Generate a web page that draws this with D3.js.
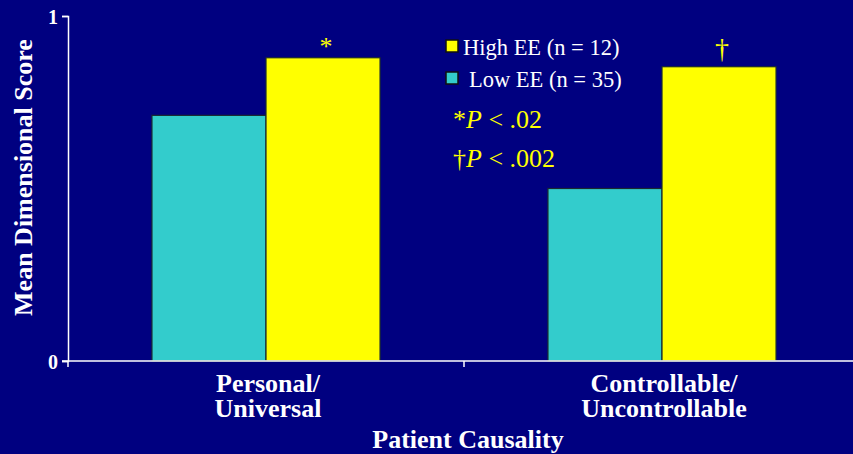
<!DOCTYPE html>
<html>
<head>
<meta charset="utf-8">
<script src="https://cdn.jsdelivr.net/npm/d3@7"></script>
<style>
  html, body { margin: 0; padding: 0; background: #000080; }
  svg { display: block; }
</style>
</head>
<body>
<svg id="chart" width="853" height="454" font-family="'Liberation Serif', 'DejaVu Serif', serif"></svg>
<script>
// Mean dimensional scores by patient causality dimension and EE group
const categories = ["Personal/\nUniversal", "Controllable/\nUncontrollable"];
const seriesNames = ["Low EE (n = 35)", "High EE (n = 12)"];
const lowEE = [0.712, 0.50];
const highEE = [0.879, 0.853];
const sigMarks = ["*", "\u2020"];
const pNotes = [["*", " < .02"], ["\u2020", " < .002"]];
const yTicks = [0, 1];

const colors = { "Low EE (n = 35)": "#33CCCC", "High EE (n = 12)": "#FFFF00" };
// glyph size / lift above the bar for each significance symbol
const markStyle = { "*": { size: 26, lift: 3 }, "\u2020": { size: 28, lift: 9 } };

const W = 853, H = 454;
const margin = { left: 68, right: -7, top: 16, bottom: 93 };
const svg = d3.select("#chart");
svg.append("rect").attr("width", W).attr("height", H).attr("fill", "#000080");

const x0 = d3.scaleBand()
  .domain(categories)
  .range([margin.left, W - margin.right])
  .paddingInner(0.424)
  .paddingOuter(0.212);

const x1 = d3.scaleBand()
  .domain(seriesNames)
  .range([0, x0.bandwidth()]);

const y = d3.scaleLinear().domain([0, 1]).range([H - margin.bottom, margin.top]);

const rows = categories.map((c, i) => ({ cat: c, vals: [
  { name: seriesNames[0], v: lowEE[i] },
  { name: seriesNames[1], v: highEE[i] }
], mark: sigMarks[i] }));

// bars
const g = svg.append("g");
const groups = g.selectAll("g.grp").data(rows).join("g")
  .attr("class", "grp")
  .attr("transform", d => `translate(${x0(d.cat)},0)`);

groups.selectAll("rect").data(d => d.vals).join("rect")
  .attr("x", d => x1(d.name))
  .attr("y", d => y(d.v))
  .attr("width", x1.bandwidth())
  .attr("height", d => y(0) - y(d.v))
  .attr("fill", d => colors[d.name])
  .attr("stroke", "#1a2a30")
  .attr("stroke-width", 1.2);

// significance marks above the High EE bars
groups.append("text")
  .attr("x", x1(seriesNames[1]) + x1.bandwidth() / 2 + 3)
  .attr("y", d => y(d.vals[1].v) - markStyle[d.mark].lift)
  .attr("text-anchor", "middle")
  .attr("fill", "#FFFF00")
  .attr("font-size", d => markStyle[d.mark].size)
  .text(d => d.mark);

// axes
const axisColor = "#FFFFFF";
const yAxis = d3.axisLeft(y).tickValues(yTicks).tickSize(6).tickFormat(d3.format("d"));
const ya = svg.append("g").attr("transform", `translate(${margin.left},0)`).call(yAxis);
ya.attr("font-family", null);
ya.select(".domain").attr("stroke", axisColor).attr("stroke-width", 1.5);
ya.selectAll(".tick line").attr("stroke", axisColor).attr("stroke-width", 1.5);
ya.selectAll(".tick text")
  .attr("fill", axisColor).attr("font-size", 20).attr("font-weight", "bold")
  .attr("x", -10).attr("dy", "0.35em");

// x axis line with tick marks at category boundaries
const step = x0.step();
const bounds = categories.map(c => x0(c) - step * x0.paddingInner() / 2);
bounds.push(bounds[bounds.length - 1] + step);
svg.append("line")
  .attr("x1", margin.left - 6).attr("x2", W - margin.right)
  .attr("y1", y(0)).attr("y2", y(0))
  .attr("stroke", axisColor).attr("stroke-width", 1.5);
svg.selectAll("line.xt").data(bounds).join("line")
  .attr("class", "xt")
  .attr("x1", d => d).attr("x2", d => d)
  .attr("y1", y(0)).attr("y2", y(0) + 6)
  .attr("stroke", axisColor).attr("stroke-width", 1.5);

// category labels
svg.selectAll("text.cat").data(categories).join("text")
  .attr("class", "cat")
  .attr("x", d => x0(d) + x0.bandwidth() / 2 + 2)
  .attr("y", 392)
  .attr("text-anchor", "middle")
  .attr("fill", "#FFFFFF")
  .attr("font-size", 26)
  .attr("font-weight", "bold")
  .selectAll("tspan").data(d => d.split("\n")).join("tspan")
    .attr("x", function () { return d3.select(this.parentNode).attr("x"); })
    .attr("dy", (d, i) => i === 0 ? 0 : 24.5)
    .text(d => d);

// axis titles
svg.append("text")
  .attr("x", (margin.left + W - margin.right) / 2 + 4)
  .attr("y", 448)
  .attr("text-anchor", "middle")
  .attr("fill", "#FFFFFF")
  .attr("font-size", 26)
  .attr("font-weight", "bold")
  .text("Patient Causality");

svg.append("text")
  .attr("transform", "translate(32,177.5) rotate(-90)")
  .attr("text-anchor", "middle")
  .attr("fill", "#FFFFFF")
  .attr("font-size", 26)
  .attr("font-weight", "bold")
  .text("Mean Dimensional Score");

// legend
const legendItems = [seriesNames[1], seriesNames[0]];
const lg = svg.append("g");
legendItems.forEach((name, i) => {
  const yy = 40 + i * 32;
  lg.append("rect")
    .attr("x", 446).attr("y", yy).attr("width", 12).attr("height", 12)
    .attr("fill", colors[name]).attr("stroke", "#111").attr("stroke-width", 1.5);
  lg.append("text")
    .attr("x", i === 0 ? 463 : 469).attr("y", yy + 14.5)
    .attr("fill", "#FFFFFF").attr("font-size", 22.5)
    .text(name);
});

// significance notes
pNotes.forEach((n, i) => {
  const t = svg.append("text")
    .attr("x", 453).attr("y", 128 + i * 39)
    .attr("fill", "#FFFF00").attr("font-size", 26);
  t.append("tspan").text(n[0]);
  t.append("tspan").attr("font-style", "italic").text("P");
  t.append("tspan").text(n[1]);
});
</script>
</body>
</html>
